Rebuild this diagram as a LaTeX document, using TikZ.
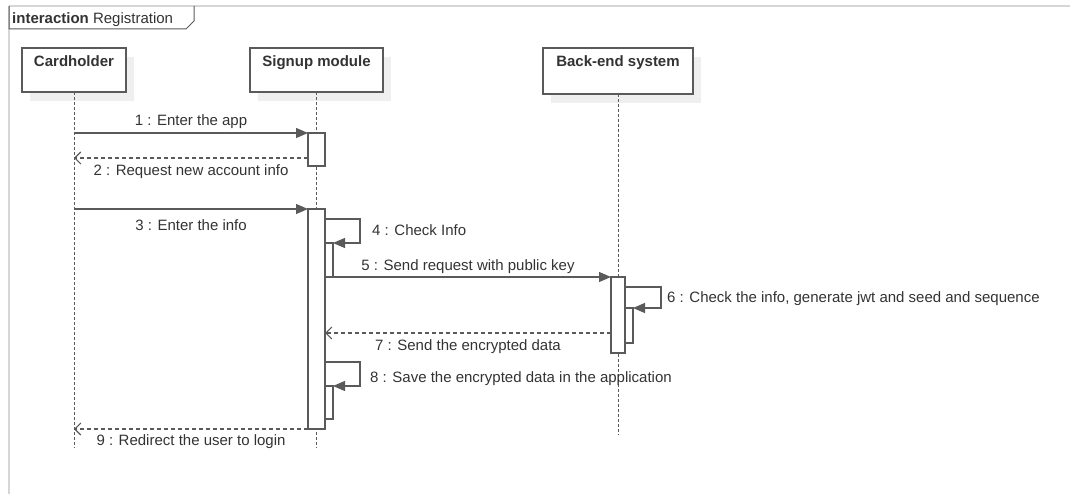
\documentclass[tikz,border=0pt]{standalone}
\usepackage{fontspec}
\setmainfont{Liberation Sans}
\usetikzlibrary{arrows.meta,shadows}
\definecolor{ln}{HTML}{5A5A5A}
\definecolor{txt}{HTML}{333333}
\definecolor{frm}{HTML}{D6D6D6}
\definecolor{shd}{HTML}{EFEFEF}
\begin{document}
\begin{tikzpicture}[x=1pt,y=-1pt,
  every node/.style={font=\fontsize{15}{18}\selectfont, text=txt},
  head/.style={draw=ln, line width=1.3pt, fill=white, minimum height=44pt, inner sep=0pt, outer sep=0pt,
    drop shadow={shadow xshift=8pt, shadow yshift=-9pt, opacity=1, fill=shd}},
  headlbl/.style={font=\bfseries\fontsize{15}{18}\selectfont, text=txt, anchor=north, inner sep=0pt, yshift=-7pt},
  life/.style={draw=ln, line width=1pt, dash pattern=on 3pt off 2pt},
  act/.style={draw=ln, line width=1.2pt, fill=white, inner sep=0pt, outer sep=0pt, anchor=north west},
  msg/.style={draw=ln, line width=1.3pt, -{Triangle[length=12pt,width=10pt]}},
  ret/.style={draw=ln, line width=1.1pt, dash pattern=on 4pt off 3pt, -{Straight Barb[length=6pt,width=12pt]}},
  lbl/.style={inner sep=0pt, anchor=base}
]
\useasboundingbox (0,0) rectangle (1070,494);
% frame
\draw[frm, line width=2pt] (9,6) -- (1070,6);
\draw[frm, line width=1.5pt] (9,6) -- (9,494);
\draw[ln, line width=1pt] (194,6) -- (194,21) -- (186,29) -- (9,29) -- (9,6);
\node[inner sep=0pt, anchor=base west] (title) at (12,23.5) {\textbf{interaction} Registration};

% heads
\node[head, minimum width=104pt, label={[headlbl]north:Cardholder}] (ch) at (74,70) {};
\node[head, minimum width=133pt, label={[headlbl]north:Signup module}] (su) at (316.5,70) {};
\node[head, minimum width=150pt, minimum height=46pt, label={[headlbl]north:Back-end system}] (be) at (618,71) {};

% lifelines
\coordinate (chend) at (74,448);
\coordinate (suend) at (316.5,448);
\coordinate (beend) at (618,435);
\draw[life] (ch.south) -- (chend);
\draw[life] (su.south) -- (suend);
\draw[life] (be.south) -- (beend);

% activations
\node[act, minimum width=17pt, minimum height=33pt] (a1) at (308,133) {};
\node[act, minimum width=17pt, minimum height=220pt] (a2) at (308,209) {};
\node[act, minimum width=8pt, minimum height=34pt] (n4) at (325,243) {};
\node[act, minimum width=14pt, minimum height=76pt] (ab) at (611,277) {};
\node[act, minimum width=8pt, minimum height=35pt] (n6) at (625,308) {};
\node[act, minimum width=8pt, minimum height=33pt] (n8) at (325,386) {};

% messages
\draw[msg] (ch.south |- a1.north west) -- (a1.north west)
  node[lbl, midway, yshift=7.5pt] (l1) {1 : Enter the app};
\draw[ret] (a1.west |- 0,158) -- (ch.south |- 0,158)
  node[lbl, midway, yshift=-17.5pt] (l2) {2 : Request new account info};
\draw[msg] (ch.south |- a2.north west) -- (a2.north west)
  node[lbl, midway, yshift=-21.5pt] (l3) {3 : Enter the info};
\draw[msg] (a2.east |- 0,219) -- (360,219) |- (n4.north east);
\node[inner sep=0pt, anchor=base west] (l4) at (372,235.5) {4 : Check Info};
\draw[msg] (n4.south west) -- (ab.north west)
  node[lbl, midway, yshift=6.5pt] (l5) {5 : Send request with public key};
\draw[msg] (ab.east |- 0,287) -- (661,287) |- (n6.north east);
\node[inner sep=0pt, anchor=base west] (l6) at (667,302.5) {6 : Check the info, generate jwt and seed and sequence};
\draw[ret] (ab.west |- 0,333) -- (a2.east |- 0,333)
  node[lbl, midway, yshift=-17.5pt] (l7) {7 : Send the encrypted data};
\draw[msg] (a2.east |- 0,362) -- (360,362) |- (n8.north east);
\node[inner sep=0pt, anchor=base west] (l8) at (370,382.5) {8 : Save the encrypted data in the application};
\draw[ret] (a2.south west) -- (ch.south |- a2.south west)
  node[lbl, midway, yshift=-16.5pt] (l9) {9 : Redirect the user to login};
\end{tikzpicture}
\end{document}
